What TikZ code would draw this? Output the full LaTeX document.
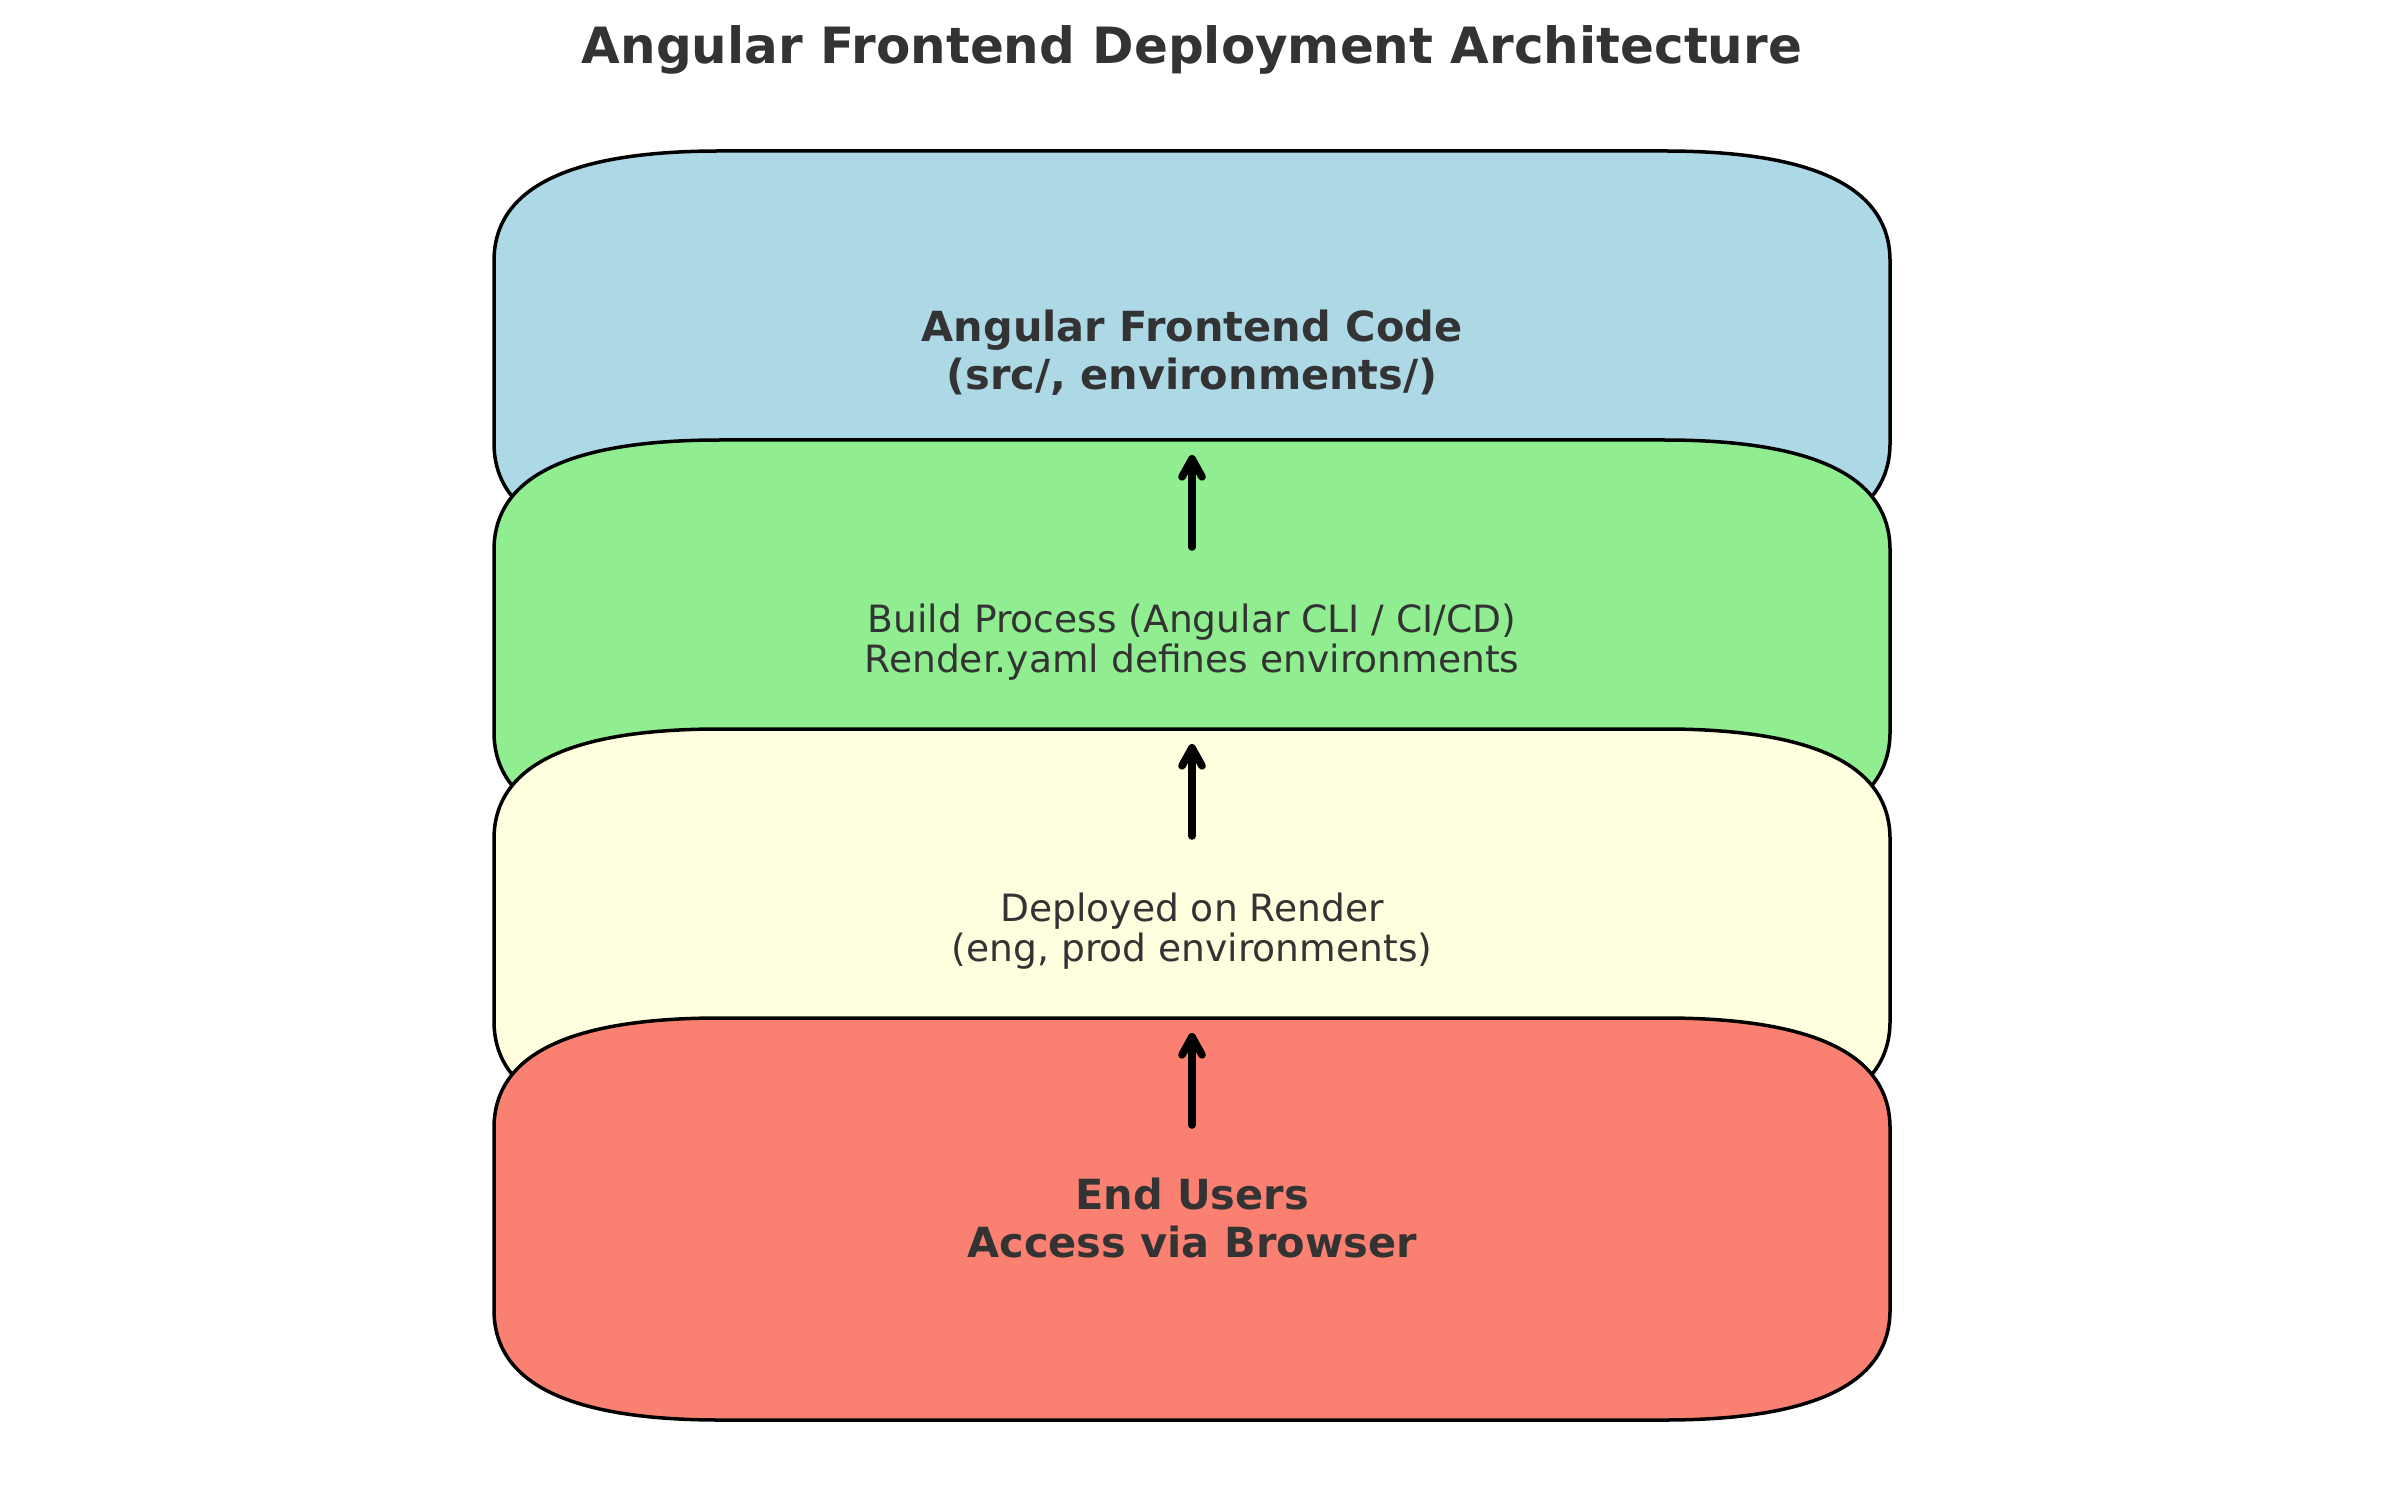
\documentclass[tikz,border=0pt]{standalone}
\usepackage{fontspec}
\setmainfont{DejaVu Sans}
\usetikzlibrary{arrows.meta}
\definecolor{txtgray}{HTML}{333333}
\definecolor{lblue}{HTML}{ADD8E6}
\definecolor{lgreen}{HTML}{90EE90}
\definecolor{lyellow}{HTML}{FFFFE0}
\definecolor{salmon}{HTML}{FA8072}
\newcommand\layerbox[2]{%
  \pgfmathsetmacro\tT{#1}%
  \pgfmathsetmacro\tB{#1+402}%
  \pgfmathsetmacro\ta{#1+36.667}%
  \pgfmathsetmacro\tb{#1+110}%
  \pgfmathsetmacro\tc{#1+292}%
  \pgfmathsetmacro\td{#1+365.333}%
  \draw[boxline, fill=#2] (720,\tT) -- (1664,\tT)
    .. controls (1814.67,\tT) and (1890,\ta) .. (1890,\tb) -- (1890,\tc)
    .. controls (1890,\td) and (1814.67,\tB) .. (1664,\tB) -- (720,\tB)
    .. controls (569.33,\tB) and (494,\td) .. (494,\tc) -- (494,\tb)
    .. controls (494,\ta) and (569.33,\tT) .. (720,\tT) -- cycle;%
}
\begin{document}
\begin{tikzpicture}[x=0.3pt,y=-0.3pt,
  boxline/.style={draw=black, line width=1.05pt},
  titletext/.style={text=txtgray, font=\fontsize{15}{18}\selectfont\bfseries, inner sep=0pt},
  boldtext/.style={text=txtgray, font=\fontsize{12.45}{14.4}\selectfont\bfseries, align=center, inner sep=0pt},
  plaintext/.style={text=txtgray, font=\fontsize{11.28}{12.2}\selectfont, align=center, inner sep=0pt},
  flowarrow/.style={line width=2.3pt, line cap=round, -{Straight Barb[length=5.4pt,width=6pt,round]}}]
\useasboundingbox (0,0) rectangle (2385,1509);
\fill[white] (0,0) rectangle (2385,1509);
\node[titletext] (title) at (1192,50) {Angular Frontend Deployment Architecture};
\layerbox{151}{lblue}
\node[boldtext] (code) at (1192,353) {Angular Frontend Code\\(src/, environments/)};
\layerbox{440}{lgreen}
\node[plaintext] (build) at (1192,642) {Build Process (Angular CLI / CI/CD)\\Render.yaml defines environments};
\layerbox{729}{lyellow}
\node[plaintext] (deploy) at (1192,931) {Deployed on Render\\(eng, prod environments)};
\layerbox{1018}{salmon}
\node[boldtext] (users) at (1192,1218) {End Users\\Access via Browser};
\coordinate (a1s) at (1192,547);
\coordinate (a1e) at (1192,455);
\coordinate (a2s) at (1192,836);
\coordinate (a2e) at (1192,744);
\coordinate (a3s) at (1192,1125);
\coordinate (a3e) at (1192,1033);
\draw[flowarrow] (a1s) -- (a1e);
\draw[flowarrow] (a2s) -- (a2e);
\draw[flowarrow] (a3s) -- (a3e);
\end{tikzpicture}
\end{document}
